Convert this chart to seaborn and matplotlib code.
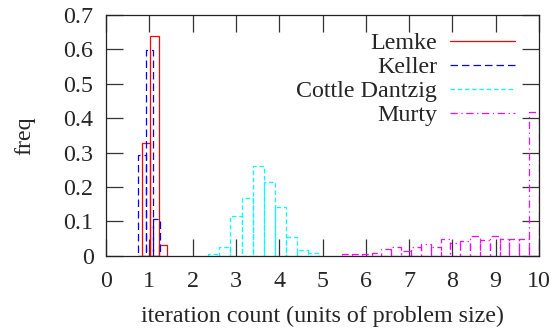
import numpy as np
import matplotlib
matplotlib.use('Agg')
import matplotlib.pyplot as plt
from matplotlib.lines import Line2D
from matplotlib.ticker import FuncFormatter
import seaborn as sns

sns.set_style('ticks')
plt.rcParams['font.family'] = ['Liberation Serif', 'DejaVu Serif']
FS = 17.3

# bin centres (units of problem size) and frequencies
lemke_x = [0.92, 1.12, 1.32]
lemke_freq = [0.327, 0.638, 0.031]

keller_x = [0.83, 1.00, 1.17]
keller_freq = [0.293, 0.598, 0.106]

cottle_x = [2.49, 2.75, 3.00, 3.26, 3.52, 3.77, 4.03, 4.29, 4.55, 4.80]
cottle_freq = [0.004, 0.026, 0.116, 0.167, 0.261, 0.213, 0.141, 0.055, 0.017, 0.007]

murty_x = [5.56, 5.79, 6.02, 6.25, 6.47, 6.70, 6.93, 7.16, 7.38, 7.61,
           7.84, 8.07, 8.29, 8.52, 8.75, 8.98, 9.20, 9.43, 9.66, 9.89]
murty_freq = [0.004, 0.004, 0.006, 0.008, 0.019, 0.024, 0.015, 0.024, 0.033, 0.024,
              0.048, 0.036, 0.043, 0.058, 0.046, 0.057, 0.050, 0.048, 0.050, 0.417]

labels = ['Lemke', 'Keller', 'Cottle Dantzig', 'Murty']
colors = ['#ff0000', '#0000ff', '#00ffff', '#ff00ff']
styles = ['-', (0, (6, 3.2)), (0, (3.6, 2.2)), (0, (5.8, 2.9, 1, 2.9))]

series = [
    (lemke_x, lemke_freq, 3, (0.82, 1.42)),
    (keller_x, keller_freq, 3, (0.75, 1.25)),
    (cottle_x, cottle_freq, 10, (2.36, 4.93)),
    (murty_x, murty_freq, 20, (5.45, 10.0)),
]

fig = plt.figure(figsize=(5.53, 3.31), dpi=100)
ax = fig.add_axes([0.1917, 0.2275, 0.783, 0.7272])

for (x, w, nb, rng), c, ls in zip(series, colors, styles):
    sns.histplot(x=x, weights=w, bins=nb, binrange=rng, stat='count',
                 element='bars', fill=False, color=c, linestyle=ls,
                 linewidth=0.9, ax=ax)

ax.set_xlim(0, 10)
ax.set_ylim(0, 0.7)
ax.set_xticks(range(0, 11))
ax.set_yticks(np.arange(0, 0.71, 0.1))
ax.xaxis.set_major_formatter(FuncFormatter(lambda v, p: '%g' % v))
ax.yaxis.set_major_formatter(FuncFormatter(lambda v, p: '%g' % round(v, 1)))
ax.tick_params(direction='in', top=True, right=True, length=12, width=0.9,
               color='#333333', labelsize=FS, pad=9)
ax.tick_params(axis='x', pad=11)
for s in ax.spines.values():
    s.set_linewidth(0.9)
    s.set_color('#222222')

ax.set_xlabel('iteration count (units of problem size)', fontsize=FS, labelpad=10)
ax.set_ylabel('freq', fontsize=FS, labelpad=20)

handles = [Line2D([], [], color=c, linestyle=ls, linewidth=0.9)
           for c, ls in zip(colors, styles)]
ax.legend(handles, labels, loc='upper right', bbox_to_anchor=(0.9446, 0.927),
          frameon=False, markerfirst=False, fontsize=FS, borderpad=0,
          borderaxespad=0, handlelength=2.7, handletextpad=0.55, labelspacing=0.09)

fig.savefig('out.png', dpi=100)
